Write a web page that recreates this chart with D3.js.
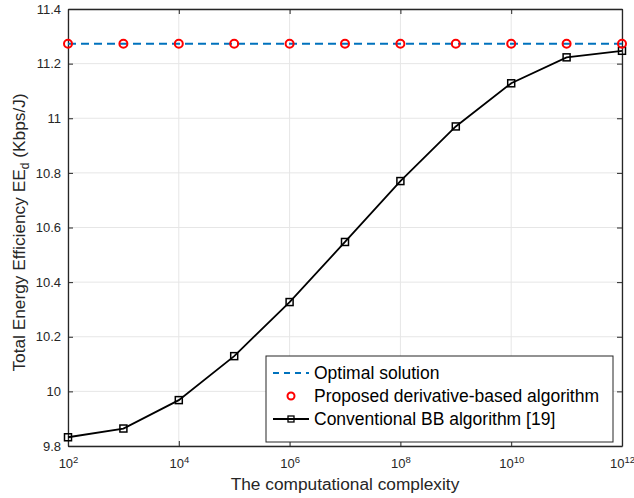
<!DOCTYPE html>
<html><head><meta charset="utf-8">
<script src="https://cdn.jsdelivr.net/npm/d3@7"></script>
<style>body{margin:0;background:#fff;} svg{display:block;font-family:"Liberation Sans",Arial,sans-serif;}</style>
</head><body>
<svg id="c" width="634" height="498"></svg>
<script>
const complexity = [1e2,1e3,1e4,1e5,1e6,1e7,1e8,1e9,1e10,1e11,1e12];
const optimal = [11.273,11.273,11.273,11.273,11.273,11.273,11.273,11.273,11.273,11.273,11.273];
const proposed = [11.273,11.273,11.273,11.273,11.273,11.273,11.273,11.273,11.273,11.273,11.273];
const conventional = [9.832,9.864,9.968,10.129,10.327,10.547,10.770,10.970,11.128,11.223,11.247];
const xTicks = [1e2,1e4,1e6,1e8,1e10,1e12];
const yTicks = [9.8,10,10.2,10.4,10.6,10.8,11,11.2,11.4];
const legendLabels = ["Optimal solution","Proposed derivative-based algorithm","Conventional BB algorithm [19]"];

const svg = d3.select("#c");
const L=68,R=622,T=9,B=446;
const x = d3.scaleLog().domain([1e2,1e12]).range([L,R]);
const y = d3.scaleLinear().domain([9.8,11.4]).range([B,T]);
const axC="#262626";

// grid
const g = svg.append("g");
g.selectAll(".vg").data(xTicks).enter().append("line")
 .attr("x1",d=>x(d)).attr("x2",d=>x(d)).attr("y1",T).attr("y2",B)
 .attr("stroke","#e6e6e6").attr("stroke-width",1);
g.selectAll(".hg").data(yTicks).enter().append("line")
 .attr("y1",d=>y(d)).attr("y2",d=>y(d)).attr("x1",L).attr("x2",R)
 .attr("stroke","#e6e6e6").attr("stroke-width",1);

// axes
const fmtX = ()=>"";
const xa = svg.append("g").attr("transform",`translate(0,${B})`)
 .call(d3.axisBottom(x).tickValues(xTicks).tickFormat(fmtX).tickSizeInner(-5).tickSizeOuter(0));
const xt = svg.append("g").attr("transform",`translate(0,${T})`)
 .call(d3.axisTop(x).tickValues(xTicks).tickFormat(fmtX).tickSizeInner(-5).tickSizeOuter(0));
const ya = svg.append("g").attr("transform",`translate(${L},0)`)
 .call(d3.axisLeft(y).tickValues(yTicks).tickFormat(d=>d3.format("")(+d.toFixed(1))).tickSizeInner(-5).tickSizeOuter(0).tickPadding(7));
const yr = svg.append("g").attr("transform",`translate(${R},0)`)
 .call(d3.axisRight(y).tickValues(yTicks).tickFormat(()=>"").tickSizeInner(-5).tickSizeOuter(0));
[xa,xt,ya,yr].forEach(a=>{
 a.select(".domain").attr("stroke",axC).attr("stroke-width",1.3);
 a.selectAll(".tick line").attr("stroke",axC).attr("stroke-width",1);
 a.selectAll("text").attr("fill",axC).style("font-size","13px").style("font-family","Liberation Sans, Arial, sans-serif");
});
// x tick labels with superscripts
xa.selectAll(".tick").each(function(d){
 const t = d3.select(this).append("text").attr("y",22).attr("text-anchor","middle").attr("fill",axC)
  .style("font-size","13px");
 t.append("tspan").text("10");
 t.append("tspan").attr("dy",-5).style("font-size","9.5px").text(Math.round(Math.log10(d)));
});

// optimal dashed line
svg.append("path").datum(complexity.map((c,i)=>[c,optimal[i]]))
 .attr("d",d3.line().x(d=>x(d[0])).y(d=>y(d[1])))
 .attr("fill","none").attr("stroke","#0072BD").attr("stroke-width",2).attr("stroke-dasharray","8,5");
// conventional
svg.append("path").datum(complexity.map((c,i)=>[c,conventional[i]]))
 .attr("d",d3.line().x(d=>x(d[0])).y(d=>y(d[1])))
 .attr("fill","none").attr("stroke","#000").attr("stroke-width",1.8);
svg.selectAll(".sq").data(complexity.map((c,i)=>[c,conventional[i]])).enter().append("rect")
 .attr("x",d=>x(d[0])-3.5).attr("y",d=>y(d[1])-3.5).attr("width",7).attr("height",7)
 .attr("fill","none").attr("stroke","#000").attr("stroke-width",1.5);
// proposed circles
svg.selectAll(".ci").data(complexity.map((c,i)=>[c,proposed[i]])).enter().append("circle")
 .attr("cx",d=>x(d[0])).attr("cy",d=>y(d[1])).attr("r",4)
 .attr("fill","none").attr("stroke","#ff0000").attr("stroke-width",2);

// legend
const lg = svg.append("g");
lg.append("rect").attr("x",266).attr("y",356).attr("width",347).attr("height",86)
 .attr("fill","#fff").attr("stroke",axC).attr("stroke-width",1);
const rows=[373,396,419];
lg.append("line").attr("x1",273).attr("x2",309).attr("y1",rows[0]).attr("y2",rows[0])
 .attr("stroke","#0072BD").attr("stroke-width",2).attr("stroke-dasharray","6,5");
lg.append("circle").attr("cx",291).attr("cy",rows[1]).attr("r",3.5)
 .attr("fill","none").attr("stroke","#ff0000").attr("stroke-width",2);
lg.append("line").attr("x1",273).attr("x2",309).attr("y1",rows[2]).attr("y2",rows[2])
 .attr("stroke","#000").attr("stroke-width",1.8);
lg.append("rect").attr("x",288).attr("y",rows[2]-3).attr("width",6).attr("height",6)
 .attr("fill","none").attr("stroke","#000").attr("stroke-width",1.3);
legendLabels.forEach((t,i)=>{
 lg.append("text").attr("x",314).attr("y",rows[i]+6).text(t)
  .attr("fill","#000").style("font-size","17.5px");
});

// axis labels
svg.append("text").attr("x",345).attr("y",490).attr("text-anchor","middle")
 .attr("fill",axC).style("font-size","17.3px").text("The computational complexity");
const yl = svg.append("text").attr("transform",`translate(25,${(T+B)/2+5}) rotate(-90)`)
 .attr("text-anchor","middle").attr("fill",axC).style("font-size","17.3px");
yl.append("tspan").text("Total Energy Efficiency EE");
yl.append("tspan").attr("dy",4).style("font-size","12px").text("d");
yl.append("tspan").attr("dy",-4).text("  (Kbps/J)");
</script>
</body></html>
